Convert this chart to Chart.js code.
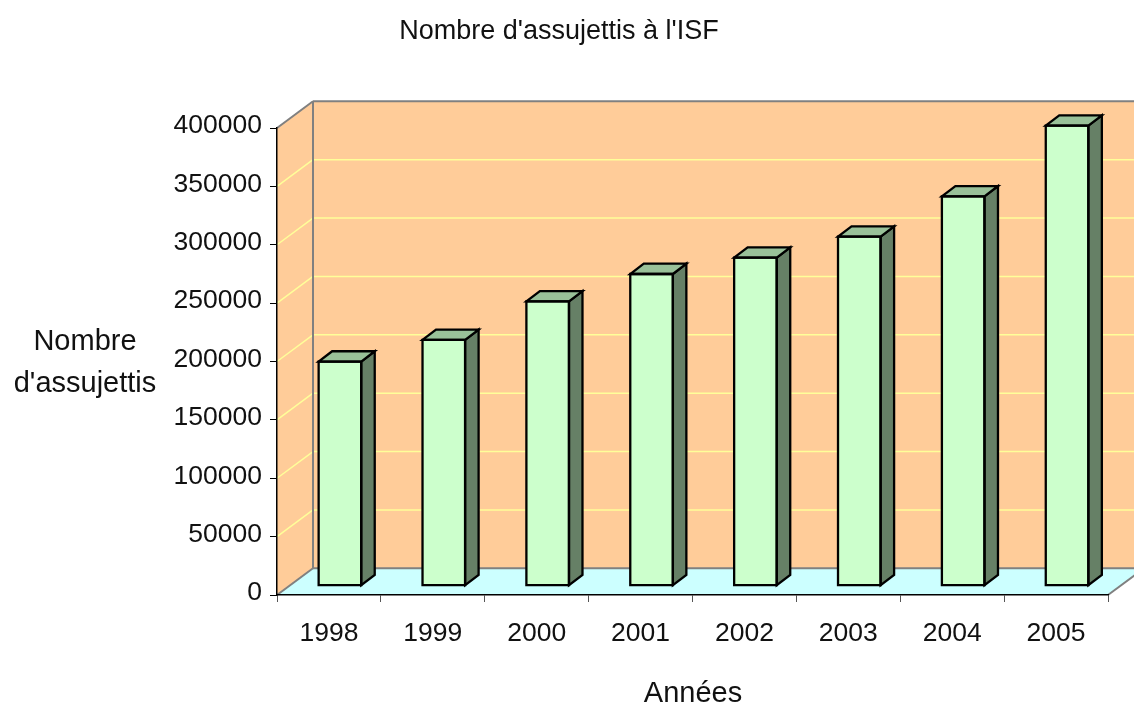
<!DOCTYPE html>
<html lang="fr">
<head>
    <meta charset="UTF-8">
    <title>Nombre d'assujettis à l'ISF</title>
    <script src="https://cdn.jsdelivr.net/npm/chart.js@4.4.1/dist/chart.umd.min.js"></script>
    <style>
        body {
            margin: 0;
            background-color: white;
        }
        #wrap {
            width: 1134px;
            height: 704px;
        }
    </style>
</head>
<body>
    <div id="wrap">
        <canvas id="isfChart" width="1134" height="704"></canvas>
    </div>

    <script>
        // data
        const years = ['1998', '1999', '2000', '2001', '2002', '2003', '2004', '2005'];
        const assujettis = [192000, 210500, 243500, 267000, 281000, 299000, 333500, 394000];
        const yMin = 0;
        const yMax = 400000;
        const yStep = 50000;

        const chartTitle = "Nombre d'assujettis à l'ISF";
        const yTitle = ['Nombre', "d'assujettis"];
        const xTitle = 'Années';

        // 3d look
        const WALL_DX = 36, WALL_DY = -26.7;   // depth of the walls / floor
        const BAR_X = 11, BAR_Y = -9.3;       // where the bar row sits in depth
        const BAR_DX = 13.5, BAR_DY = -10.3;  // depth of each bar

        const FONT = '"Liberation Sans", Arial, sans-serif';

        function poly(ctx, pts, fill, stroke, lw) {
            ctx.beginPath();
            ctx.moveTo(pts[0][0], pts[0][1]);
            for (let i = 1; i < pts.length; i++) ctx.lineTo(pts[i][0], pts[i][1]);
            ctx.closePath();
            if (fill) { ctx.fillStyle = fill; ctx.fill(); }
            if (stroke) { ctx.strokeStyle = stroke; ctx.lineWidth = lw; ctx.stroke(); }
        }

        function line(ctx, x1, y1, x2, y2, color, lw) {
            ctx.beginPath();
            ctx.moveTo(x1, y1);
            ctx.lineTo(x2, y2);
            ctx.strokeStyle = color;
            ctx.lineWidth = lw;
            ctx.stroke();
        }

        const box3d = {
            id: 'box3d',
            beforeDraw(chart) {
                const ctx = chart.ctx;
                const a = chart.chartArea;
                const y = chart.scales.y;
                ctx.save();
                // side wall
                poly(ctx, [[a.left, a.top], [a.left + WALL_DX, a.top + WALL_DY],
                           [a.left + WALL_DX, a.bottom + WALL_DY], [a.left, a.bottom]], '#FFCC99');
                // back wall
                poly(ctx, [[a.left + WALL_DX, a.top + WALL_DY], [a.right + WALL_DX, a.top + WALL_DY],
                           [a.right + WALL_DX, a.bottom + WALL_DY], [a.left + WALL_DX, a.bottom + WALL_DY]], '#FFCC99');
                // floor
                poly(ctx, [[a.left, a.bottom], [a.left + WALL_DX, a.bottom + WALL_DY],
                           [a.right + WALL_DX, a.bottom + WALL_DY], [a.right, a.bottom]], '#CCFFFF');

                // gridlines on the walls
                y.ticks.forEach(t => {
                    if (t.value <= yMin || t.value >= yMax) return;
                    const py = y.getPixelForValue(t.value);
                    line(ctx, a.left, py, a.left + WALL_DX, py + WALL_DY, '#FFFF99', 1.5);
                    line(ctx, a.left + WALL_DX, py + WALL_DY, a.right + WALL_DX, py + WALL_DY, '#FFFF99', 1.5);
                });

                // edges
                const g = '#808080';
                line(ctx, a.left, a.top, a.left + WALL_DX, a.top + WALL_DY, g, 2);
                line(ctx, a.left + WALL_DX, a.top + WALL_DY, a.right + WALL_DX, a.top + WALL_DY, g, 2);
                line(ctx, a.left + WALL_DX, a.top + WALL_DY, a.left + WALL_DX, a.bottom + WALL_DY, g, 2);
                line(ctx, a.left, a.bottom, a.left + WALL_DX, a.bottom + WALL_DY, g, 2);
                line(ctx, a.left + WALL_DX, a.bottom + WALL_DY, a.right + WALL_DX, a.bottom + WALL_DY, g, 2);
                line(ctx, a.right, a.bottom, a.right + WALL_DX, a.bottom + WALL_DY, g, 2);
                ctx.restore();
            },
            beforeDatasetsDraw(chart) {
                chart.ctx.save();
                chart.ctx.translate(BAR_X, BAR_Y);
            },
            afterDatasetsDraw(chart) {
                const ctx = chart.ctx;
                const meta = chart.getDatasetMeta(0);
                ctx.lineJoin = 'miter';
                meta.data.forEach(bar => {
                    const p = bar.getProps(['x', 'y', 'base', 'width'], true);
                    const L = p.x - p.width / 2, R = p.x + p.width / 2;
                    const T = p.y, B = p.base;
                    // side
                    poly(ctx, [[R, T], [R + BAR_DX, T + BAR_DY], [R + BAR_DX, B + BAR_DY], [R, B]], '#668066', '#000', 2.3);
                    // top
                    poly(ctx, [[L, T], [R, T], [R + BAR_DX, T + BAR_DY], [L + BAR_DX, T + BAR_DY]], '#99C199', '#000', 2.3);
                    // front outline
                    poly(ctx, [[L, T], [R, T], [R, B], [L, B]], null, '#000', 2.3);
                });
                ctx.restore();
            },
            afterDraw(chart) {
                const ctx = chart.ctx;
                ctx.save();
                ctx.fillStyle = '#111';
                ctx.textAlign = 'center';
                ctx.textBaseline = 'alphabetic';
                ctx.font = '27px ' + FONT;
                ctx.fillText(chartTitle, 559, 39);
                ctx.font = '29px ' + FONT;
                ctx.fillText(yTitle[0], 85, 350);
                ctx.fillText(yTitle[1], 85, 392);
                ctx.fillText(xTitle, 693, 702);
                ctx.restore();
            }
        };

        new Chart(document.getElementById('isfChart'), {
            type: 'bar',
            data: {
                labels: years,
                datasets: [{
                    label: chartTitle,
                    data: assujettis,
                    backgroundColor: '#CCFFCC',
                    borderWidth: 0,
                    categoryPercentage: 1,
                    barPercentage: 0.41,
                    clip: false
                }]
            },
            options: {
                responsive: false,
                animation: false,
                layout: {
                    padding: { left: 0, right: 26, top: 128, bottom: 0 }
                },
                plugins: {
                    legend: { display: false },
                    title: { display: false },
                    tooltip: { enabled: false }
                },
                scales: {
                    x: {
                        grid: {
                            drawOnChartArea: false,
                            drawTicks: true,
                            tickLength: 7,
                            tickColor: '#555'
                        },
                        border: { display: true, color: '#000', width: 1.5 },
                        ticks: {
                            color: '#111',
                            padding: 16,
                            font: { family: FONT, size: 26.5 }
                        },
                        afterFit(scale) { scale.height = 109; }
                    },
                    y: {
                        min: yMin,
                        max: yMax,
                        grid: {
                            drawOnChartArea: false,
                            drawTicks: true,
                            tickLength: 7,
                            tickColor: '#000'
                        },
                        border: { display: true, color: '#000', width: 1.5 },
                        ticks: {
                            stepSize: yStep,
                            color: '#111',
                            padding: 8,
                            labelOffset: -2,
                            font: { family: FONT, size: 26.5 },
                            callback: v => String(v)
                        },
                        afterFit(scale) { scale.width = 277; }
                    }
                }
            },
            plugins: [box3d]
        });
    </script>
</body>
</html>
